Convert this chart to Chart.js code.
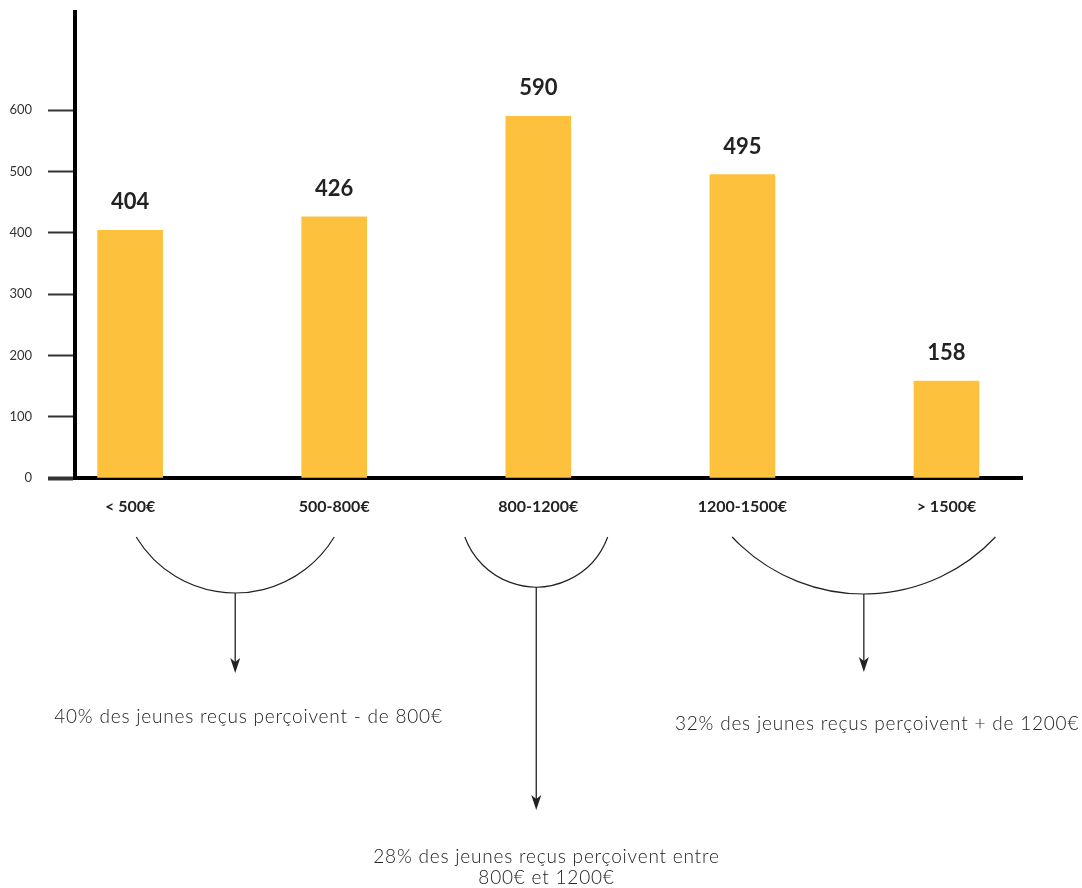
<!DOCTYPE html>
<html lang="fr">
<head>
<meta charset="utf-8">
<title>Revenus des jeunes reçus</title>
<script src="https://cdn.jsdelivr.net/npm/chart.js@4.4.1/dist/chart.umd.min.js"></script>
<style>
  html, body { margin: 0; padding: 0; background: #fff; }
  #wrap { width: 1082px; height: 888px; position: relative; }
</style>
</head>
<body>
<div id="wrap"><canvas id="chart"></canvas></div>
<script>
// ── Data ────────────────────────────────────────────────────────
const categories = ['< 500€', '500-800€', '800-1200€', '1200-1500€', '> 1500€'];
const counts     = [404, 426, 590, 495, 158];
const yTickMax   = 600;   // highest labelled tick
const yStep      = 100;

// groups of categories summarised under the chart
const groupMembers = [[0, 1], [2], [3, 4]];
const groupShares  = [40, 28, 32];
const groupNotes   = [
  [`${groupShares[0]}% des jeunes reçus perçoivent - de 800€`],
  [`${groupShares[1]}% des jeunes reçus perçoivent entre`, '800€ et 1200€'],
  [`${groupShares[2]}% des jeunes reçus perçoivent + de 1200€`]
];

const INK   = '#222';
const BAR   = '#FEC13E';
const FONT  = 'Lato, "Noto Sans", sans-serif';

// ── Plugins ─────────────────────────────────────────────────────
const valueLabels = {
  id: 'valueLabels',
  afterDatasetsDraw(chart) {
    const { ctx } = chart;
    const meta = chart.getDatasetMeta(0);
    ctx.save();
    ctx.fillStyle    = INK;
    ctx.font         = `bold 22px ${FONT}`;
    ctx.textAlign    = 'center';
    ctx.textBaseline = 'middle';
    meta.data.forEach((bar, i) => {
      ctx.fillText(String(counts[i]), bar.x, bar.y - 28);
    });
    ctx.restore();
  }
};

// arcs + arrows + captions under the axis
const groupNotesPlugin = {
  id: 'groupNotes',
  afterDraw(chart, args, opts) {
    const { ctx, chartArea, scales } = chart;
    const base = chartArea.bottom;
    ctx.save();
    ctx.strokeStyle = INK;
    ctx.fillStyle   = INK;
    opts.shapes.forEach((s, gi) => {
      const left  = scales.x.getPixelForValue(s.from);
      const right = scales.x.getPixelForValue(s.to);
      const cx    = (left + right) / 2;
      const top   = base + s.top;
      const half  = (right - left) / 2;
      const sag   = s.depth;
      const r     = (half * half + sag * sag) / (2 * sag);
      const cy    = top + sag - r;
      const a0    = Math.atan2(top - cy, half);
      const a1    = Math.PI - a0;

      ctx.lineWidth = 1.2;
      ctx.beginPath();
      ctx.arc(cx, cy, r, a0, a1);
      ctx.stroke();

      // arrow
      const y0  = top + sag;
      const tip = base + s.tip;
      ctx.lineWidth = 1.3;
      ctx.beginPath();
      ctx.moveTo(cx, y0);
      ctx.lineTo(cx, tip - 10);
      ctx.stroke();
      ctx.beginPath();
      ctx.moveTo(cx, tip);
      ctx.lineTo(cx - 5, tip - 15);
      ctx.lineTo(cx, tip - 11);
      ctx.lineTo(cx + 5, tip - 15);
      ctx.closePath();
      ctx.fill();

      // caption
      ctx.font          = `300 19px ${FONT}`;
      ctx.letterSpacing = '0.8px';
      ctx.textAlign     = 'center';
      ctx.textBaseline  = 'middle';
      const tx = scales.x.getPixelForValue(s.textX);
      groupNotes[gi].forEach((line, li) => {
        ctx.fillText(line, tx, base + s.textY + li * 21);
      });
      ctx.letterSpacing = '0px';
    });
    ctx.restore();
  }
};

// ── Chart ───────────────────────────────────────────────────────
const ctx = document.getElementById('chart').getContext('2d');
new Chart(ctx, {
  type: 'bar',
  data: {
    datasets: [{
      data: counts.map((v, i) => ({ x: i, y: v })),
      backgroundColor: BAR,
      borderWidth: 0,
      barThickness: 65
    }]
  },
  options: {
    responsive: true,
    maintainAspectRatio: false,
    animation: false,
    layout: { padding: { top: 12, right: 60, left: 0, bottom: 370 } },
    plugins: {
      legend:  { display: false },
      tooltip: { enabled: false },
      groupNotes: {
        shapes: [
          { from: 0.03, to: 1.00, top: 59, depth: 56, tip: 195, textX: 0.58, textY: 239 },
          { from: 1.64, to: 2.34, top: 59, depth: 50, tip: 332, textX: 2.04, textY: 379 },
          { from: 2.95, to: 4.24, top: 59, depth: 57, tip: 194, textX: 3.66, textY: 246 }
        ]
      }
    },
    scales: {
      x: {
        type: 'linear',
        offset: false,
        min: -0.27,
        max: 4.37,
        afterFit: s => { s.height = 40; s.paddingLeft = 0; s.paddingRight = 0; },
        grid:   { display: false },
        border: { color: '#000', width: 4 },
        ticks: {
          stepSize: 1,
          includeBounds: false,
          autoSkip: false,
          maxRotation: 0,
          padding: 11,
          color: INK,
          font: { family: FONT, size: 16, weight: 'bold' },
          callback: v => Number.isInteger(v) ? (categories[v] ?? '') : ''
        }
      },
      y: {
        min: 0,
        max: 760,
        afterFit: s => { s.width = 75; s.paddingTop = 0; s.paddingBottom = 0; },
        border: { color: '#000', width: 4 },
        grid: {
          drawOnChartArea: false,
          tickLength: 27,
          tickColor: c => c.tick && c.tick.value <= yTickMax ? '#333' : 'rgba(0,0,0,0)',
          tickWidth: c => c.tick && c.tick.value === 0 ? 4 : 2
        },
        ticks: {
          stepSize: yStep,
          padding: 16,
          color: '#333',
          font: { family: FONT, size: 13 },
          callback: v => v <= yTickMax && v % yStep === 0 ? v : ''
        }
      }
    }
  },
  plugins: [valueLabels, groupNotesPlugin]
});
</script>
</body>
</html>
